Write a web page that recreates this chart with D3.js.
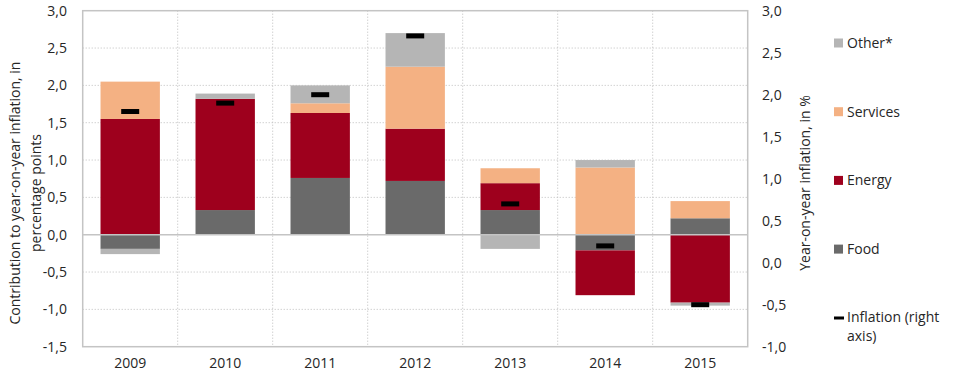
<!DOCTYPE html>
<html>
<head>
<meta charset="utf-8">
<script src="https://cdn.jsdelivr.net/npm/d3@7"></script>
<style>
  body { margin: 0; background: #fff; }
  text { font-family: "Open Sans", sans-serif; fill: #262626; font-size: 14px; }
</style>
</head>
<body>
<svg id="chart" width="960" height="383"></svg>
<script>
const years = ["2009", "2010", "2011", "2012", "2013", "2014", "2015"];
const food = [-0.19, 0.33, 0.76, 0.72, 0.33, -0.21, 0.22];
const energy = [1.55, 1.49, 0.87, 0.70, 0.36, -0.60, -0.91];
const services = [0.50, 0.00, 0.13, 0.83, 0.20, 0.90, 0.23];
const other = [-0.07, 0.07, 0.24, 0.45, -0.19, 0.10, -0.04];
const inflation = [1.8, 1.9, 2.0, 2.7, 0.7, 0.2, -0.5];
const leftTicks = [-1.5, -1.0, -0.5, 0, 0.5, 1.0, 1.5, 2.0, 2.5, 3.0];
const rightTicks = [-1.0, -0.5, 0, 0.5, 1.0, 1.5, 2.0, 2.5, 3.0];

const keys = ["food", "energy", "services", "other"];
const colors = { food: "#6a6a6a", energy: "#9e001d", services: "#f4b183", other: "#b5b5b5" };
const legendItems = [
    { key: "other", label: "Other*" },
    { key: "services", label: "Services" },
    { key: "energy", label: "Energy" },
    { key: "food", label: "Food" }
];

const svg = d3.select("#chart");
const plot = { left: 82.7, right: 747.7, top: 10.7, bottom: 346.7 };

const locale = d3.formatLocale({ decimal: ",", thousands: ".", grouping: [3], currency: ["", ""], minus: "-" });
const fmt = locale.format(".1f");

const x = d3.scaleBand().domain(years).range([plot.left, plot.right]).padding(0);
const yL = d3.scaleLinear().domain([-1.5, 3.0]).range([plot.bottom, plot.top]);
const yR = d3.scaleLinear().domain([-1.0, 3.0]).range([plot.bottom, plot.top]);
const barW = x.bandwidth() * 0.625;

const table = years.map((yr, i) => ({
    year: yr, food: food[i], energy: energy[i], services: services[i], other: other[i]
}));
const stacked = d3.stack().keys(keys).offset(d3.stackOffsetDiverging)(table);

// grid
const grid = svg.append("g");
grid.selectAll("line.h").data(leftTicks.filter(d => d !== 0 && d !== 3.0 && d !== -1.5))
    .join("line")
    .attr("x1", plot.left).attr("x2", plot.right)
    .attr("y1", d => yL(d)).attr("y2", d => yL(d))
    .attr("stroke", "#bdbdbd").attr("stroke-dasharray", "1,2");
grid.selectAll("line.v").data(years.slice(1))
    .join("line")
    .attr("x1", d => x(d)).attr("x2", d => x(d))
    .attr("y1", plot.top).attr("y2", plot.bottom)
    .attr("stroke", "#bdbdbd").attr("stroke-dasharray", "1,2");

// bars
svg.append("g").selectAll("g").data(stacked)
    .join("g")
    .attr("fill", d => colors[d.key])
    .selectAll("rect").data(d => d)
    .join("rect")
    .attr("x", d => x(d.data.year) + (x.bandwidth() - barW) / 2)
    .attr("y", d => yL(Math.max(d[0], d[1])))
    .attr("width", barW)
    .attr("height", d => Math.abs(yL(d[0]) - yL(d[1])));

// frame and zero line
svg.append("rect")
    .attr("x", plot.left).attr("y", plot.top)
    .attr("width", plot.right - plot.left).attr("height", plot.bottom - plot.top)
    .attr("fill", "none").attr("stroke", "#c4c4c4").attr("stroke-width", 1.5);
svg.append("line")
    .attr("x1", plot.left).attr("x2", plot.right)
    .attr("y1", yL(0)).attr("y2", yL(0))
    .attr("stroke", "#c4c4c4").attr("stroke-width", 1.5);

// inflation markers
svg.append("g").selectAll("rect").data(inflation)
    .join("rect")
    .attr("x", (d, i) => x(years[i]) + x.bandwidth() / 2 - 9)
    .attr("y", d => yR(d) - 2.5)
    .attr("width", 18).attr("height", 5)
    .attr("fill", "#000");

// axes labels
svg.append("g").selectAll("text").data(leftTicks)
    .join("text")
    .attr("x", 67).attr("y", d => yL(d))
    .attr("dy", "0.35em")
    .attr("text-anchor", "end")
    .text(d => fmt(d));

svg.append("g").selectAll("text").data(rightTicks)
    .join("text")
    .attr("x", 762).attr("y", d => yR(d))
    .attr("dy", "0.35em")
    .text(d => fmt(d));

svg.append("g").selectAll("text").data(years)
    .join("text")
    .attr("x", d => x(d) + x.bandwidth() / 2).attr("y", 363)
    .attr("dy", "0.35em")
    .attr("text-anchor", "middle")
    .text(d => d);

// axis titles
svg.append("text")
    .attr("transform", "translate(15,193) rotate(-90)")
    .attr("dy", "0.35em")
    .attr("text-anchor", "middle")
    .text("Contribution to year-on-year inflation, in");
svg.append("text")
    .attr("transform", "translate(36,193) rotate(-90)")
    .attr("dy", "0.35em")
    .attr("text-anchor", "middle")
    .text("percentage points");
svg.append("text")
    .attr("transform", "translate(805,183) rotate(-90)")
    .attr("dy", "0.35em")
    .attr("text-anchor", "middle")
    .text("Year-on-year inflation, in %");

// legend
const legend = svg.append("g");
legendItems.forEach((item, i) => {
    const ly = 43 + i * 68.7;
    legend.append("rect")
        .attr("x", 834).attr("y", ly - 4.5)
        .attr("width", 9).attr("height", 9)
        .attr("fill", colors[item.key]);
    legend.append("text")
        .attr("x", 847).attr("y", ly)
        .attr("dy", "0.35em")
        .text(item.label);
});
legend.append("rect")
    .attr("x", 834).attr("y", 316.5)
    .attr("width", 10).attr("height", 3)
    .attr("fill", "#000");
legend.append("text")
    .attr("x", 847).attr("y", 317.5)
    .attr("dy", "0.35em")
    .text("Inflation (right");
legend.append("text")
    .attr("x", 847).attr("y", 336)
    .attr("dy", "0.35em")
    .text("axis)");
</script>
</body>
</html>
